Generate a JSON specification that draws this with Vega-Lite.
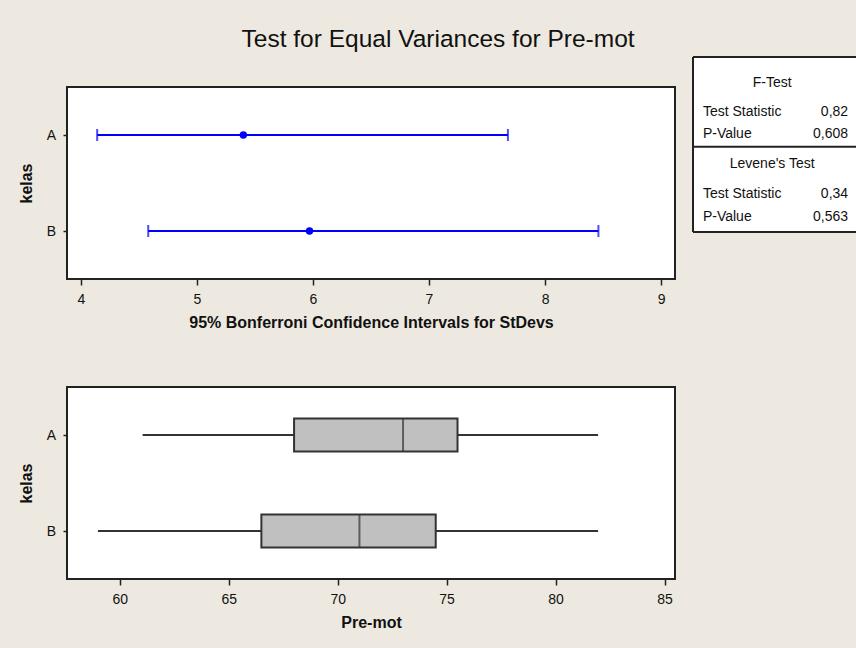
{
  "$schema": "https://vega.github.io/schema/vega-lite/v6.json",
  "background": "#ede9e0",
  "padding": {"left": 17, "top": 26, "right": 0, "bottom": 16},
  "title": {"text": "Test for Equal Variances for Pre-mot", "fontSize": 24.5, "fontWeight": "normal", "color": "#111111", "font": "Liberation Sans", "anchor": "middle", "offset": 4},
  "config": {
    "font": "Liberation Sans",
    "view": {"stroke": "#222222", "strokeWidth": 2, "fill": "white"},
    "axis": {"domain": false, "grid": false, "labelFont": "Liberation Sans", "labelFontSize": 14, "labelColor": "#111111", "titleFont": "Liberation Sans", "titleFontSize": 16, "titleFontWeight": "bold", "titleColor": "#111111", "tickColor": "#222222", "tickWidth": 1.5}
  },
  "spacing": 16,
  "hconcat": [
    {
      "spacing": 54,
      "vconcat": [
        {
          "width": 608,
          "height": 192,
          "data": {"values": [
            {"kelas": "A", "lo": 4.14, "sd": 5.40, "hi": 7.68},
            {"kelas": "B", "lo": 4.58, "sd": 5.97, "hi": 8.46}
          ]},
          "encoding": {
            "y": {"field": "kelas", "type": "nominal", "scale": {"type": "point", "padding": 0.5}, "axis": {"title": "kelas", "tickSize": 4, "labelPadding": 7.5, "titlePadding": 12}}
          },
          "layer": [
            {"mark": {"type": "rule", "color": "#0000ff", "strokeWidth": 2},
             "encoding": {"x": {"field": "lo", "type": "quantitative", "scale": {"domain": [3.88, 9.12], "nice": false, "zero": false}, "axis": {"title": "95% Bonferroni Confidence Intervals for StDevs", "values": [4, 5, 6, 7, 8, 9], "format": "d", "tickSize": 6, "labelPadding": 7, "titlePadding": 8.5}}, "x2": {"field": "hi"}}},
            {"mark": {"type": "tick", "color": "#0000ff", "thickness": 2, "size": 12, "orient": "vertical"},
             "encoding": {"x": {"field": "lo", "type": "quantitative", "title": "95% Bonferroni Confidence Intervals for StDevs"}}},
            {"mark": {"type": "tick", "color": "#0000ff", "thickness": 2, "size": 12, "orient": "vertical"},
             "encoding": {"x": {"field": "hi", "type": "quantitative", "title": "95% Bonferroni Confidence Intervals for StDevs"}}},
            {"mark": {"type": "point", "filled": true, "color": "#0000ff", "size": 55, "opacity": 1},
             "encoding": {"x": {"field": "sd", "type": "quantitative", "title": "95% Bonferroni Confidence Intervals for StDevs"}}}
          ]
        },
        {
          "width": 608,
          "height": 192,
          "data": {"values": [
            {"kelas": "A", "min": 61.05, "q1": 68.0, "med": 73.0, "q3": 75.5, "max": 81.95},
            {"kelas": "B", "min": 59.0, "q1": 66.5, "med": 71.0, "q3": 74.5, "max": 81.95}
          ]},
          "encoding": {
            "y": {"field": "kelas", "type": "nominal", "scale": {"type": "point", "padding": 0.5}, "axis": {"title": "kelas", "tickSize": 4, "labelPadding": 7.5, "titlePadding": 12}}
          },
          "layer": [
            {"mark": {"type": "rule", "color": "#333333", "strokeWidth": 2},
             "encoding": {"x": {"field": "min", "type": "quantitative", "scale": {"domain": [57.58, 85.48], "nice": false, "zero": false}, "axis": {"title": "Pre-mot", "values": [60, 65, 70, 75, 80, 85], "format": "d", "tickSize": 6, "labelPadding": 7, "titlePadding": 8.5}}, "x2": {"field": "max"}}},
            {"mark": {"type": "bar", "fill": "#c0c0c0", "stroke": "#333333", "strokeWidth": 2, "size": 33},
             "encoding": {"x": {"field": "q1", "type": "quantitative", "title": "Pre-mot"}, "x2": {"field": "q3"}}},
            {"mark": {"type": "tick", "color": "#333333", "thickness": 2, "size": 33, "orient": "vertical"},
             "encoding": {"x": {"field": "med", "type": "quantitative", "title": "Pre-mot"}}}
          ]
        }
      ]
    },
    {
      "width": 165,
      "height": 145,
      "view": {"stroke": null, "fill": null},
      "layer": [
        {
          "data": {"values": [{}]},
          "mark": {"type": "rect", "fill": "white", "strokeWidth": 0},
          "encoding": {
            "x": {"datum": 0, "type": "quantitative", "scale": {"domain": [0, 1], "nice": false, "zero": false}, "axis": null},
            "x2": {"datum": 1},
            "y": {"datum": 0, "type": "quantitative", "scale": {"domain": [1.2, 7], "reverse": true, "nice": false, "zero": false}, "axis": null},
            "y2": {"datum": 7}
          }
        },
        {
          "data": {"values": [
            {"line": 1.05, "text": "F-Test"},
            {"line": 4.27, "text": "Levene's Test"}
          ]},
          "mark": {"type": "text", "align": "center", "baseline": "middle", "fontSize": 14, "color": "#111111"},
          "encoding": {
            "x": {"datum": 0.48, "type": "quantitative"},
            "y": {"field": "line", "type": "quantitative"},
            "text": {"field": "text"}
          }
        },
        {
          "data": {"values": [
            {"line": 2.2, "stat": "Test Statistic", "value": "0,82"},
            {"line": 3.09, "stat": "P-Value", "value": "0,608"},
            {"line": 5.47, "stat": "Test Statistic", "value": "0,34"},
            {"line": 6.39, "stat": "P-Value", "value": "0,563"}
          ]},
          "layer": [
            {"mark": {"type": "text", "align": "left", "baseline": "middle", "fontSize": 14, "color": "#111111"},
             "encoding": {"x": {"datum": 0.06, "type": "quantitative"}, "y": {"field": "line", "type": "quantitative"}, "text": {"field": "stat"}}},
            {"mark": {"type": "text", "align": "right", "baseline": "middle", "fontSize": 14, "color": "#111111"},
             "encoding": {"x": {"datum": 0.94, "type": "quantitative"}, "y": {"field": "line", "type": "quantitative"}, "text": {"field": "value"}}}
          ]
        },
        {
          "data": {"values": [{"edge": 0}, {"edge": 3.59}, {"edge": 7}]},
          "mark": {"type": "rule", "color": "#222222", "strokeWidth": 2},
          "encoding": {"y": {"field": "edge", "type": "quantitative"}}
        },
        {
          "data": {"values": [{}]},
          "mark": {"type": "rule", "color": "#222222", "strokeWidth": 2},
          "encoding": {"x": {"datum": 0, "type": "quantitative"}, "y": {"datum": 0, "type": "quantitative"}, "y2": {"datum": 7}}
        }
      ]
    }
  ]
}
